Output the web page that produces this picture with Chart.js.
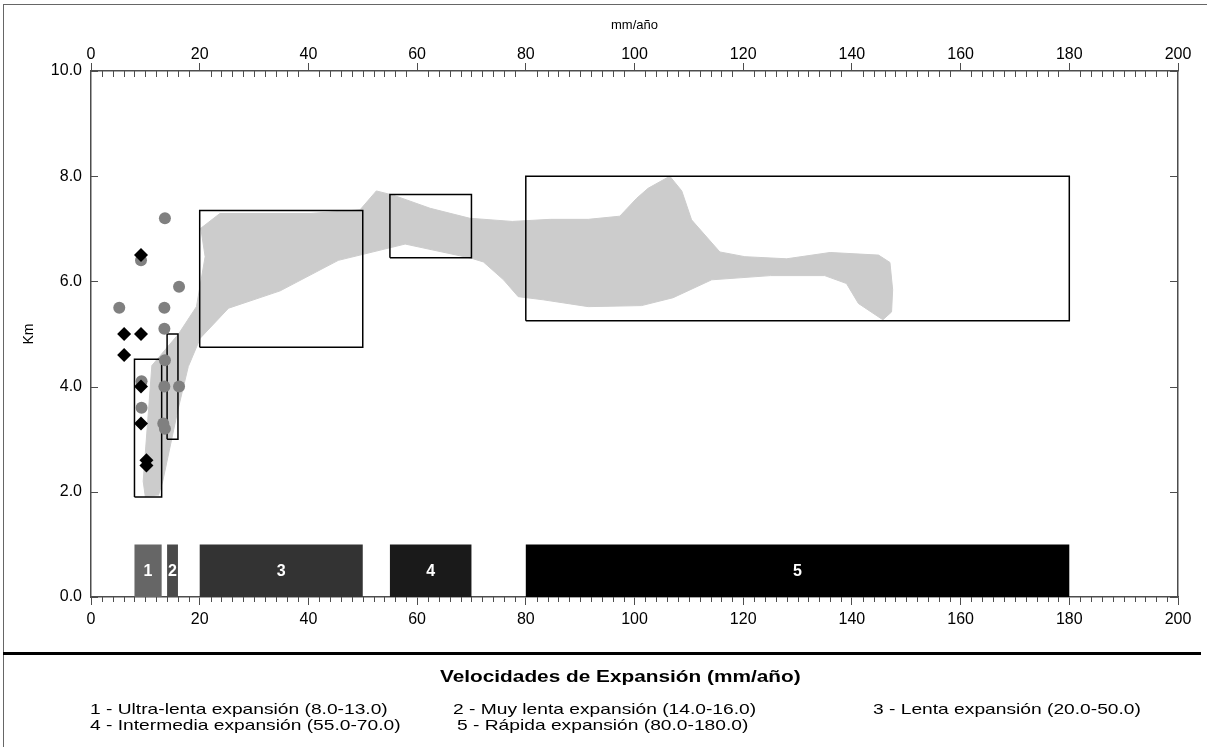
<!DOCTYPE html>
<html>
<head>
<meta charset="utf-8">
<script src="https://cdn.jsdelivr.net/npm/chart.js@4.4.0/dist/chart.umd.min.js"></script>
<style>
  body { margin: 0; background: #fff; font-family: 'Liberation Sans', Arial, sans-serif; }
  #wrap { position: relative; width: 1207px; height: 747px; overflow: hidden; }
  #chart { position: absolute; left: 0; top: 0; }
  #frameTop { position: absolute; left: 3px; top: 4px; width: 1204px; height: 1px; background: #666; }
  #frameLeft { position: absolute; left: 3px; top: 4px; width: 1px; height: 743px; background: #666; }
  #rule { position: absolute; left: 3px; top: 652px; width: 1198px; height: 3px; background: #000; }
  .txt { position: absolute; white-space: nowrap; transform-origin: 0 0; transform: scaleX(1.28); line-height: 1; color: #000; }
  .ttl { font-weight: bold; font-size: 16px; transform: scaleX(1.3); }
  .item { font-size: 15px; }
</style>
</head>
<body>
<div id="wrap">
  <canvas id="chart" width="1207" height="747"></canvas>
  <div id="frameTop"></div>
  <div id="frameLeft"></div>
  <div id="rule"></div>
  <div id="legend"></div>
</div>
<script>
// expansion rate classes (mm/año)
const rangeLabels = ['1', '2', '3', '4', '5'];
const rangeNames = ['Ultra-lenta expansión', 'Muy lenta expansión', 'Lenta expansión', 'Intermedia expansión', 'Rápida expansión'];
const rangeFrom = [8, 14, 20, 55, 80];
const rangeTo = [13, 16, 50, 70, 180];
const rangeBarTop = 1.0;

// depth window (Km) boxed for each class
const boxBottom = [1.9, 3.0, 4.75, 6.45, 5.25];
const boxTop = [4.52, 5.0, 7.35, 7.65, 8.0];

// shaded band, outline traced round (x mm/año, y Km)
const bandX = [10.0, 9.6, 11.2, 16.1, 19.4, 21.0, 20.2, 23.7, 40.3, 49.5, 52.5, 55.6, 62.4, 69.7, 77.5, 84.5,
  91.5, 97.3, 100.4, 102.5, 106.5, 108.7, 110.5, 115.7, 120.3, 128.0, 136.0, 144.9, 147.0, 147.5, 147.3, 145.7,
  141.2, 139.0, 135.0, 125.0, 114.2, 107.1, 101.3, 91.5, 83.2, 78.6, 75.9, 72.2, 70.0, 57.8, 45.5, 34.8,
  25.3, 20.1, 17.9, 16.0, 13.2, 12.4];
const bandY = [1.90, 2.20, 4.40, 5.00, 5.52, 6.47, 7.01, 7.29, 7.29, 7.36, 7.72, 7.64, 7.39, 7.20, 7.14, 7.18,
  7.18, 7.24, 7.58, 7.77, 8.00, 7.72, 7.17, 6.56, 6.47, 6.43, 6.55, 6.50, 6.36, 5.84, 5.42, 5.27,
  5.58, 5.96, 6.11, 6.11, 6.03, 5.69, 5.54, 5.52, 5.65, 5.71, 6.03, 6.37, 6.44, 6.71, 6.40, 5.82,
  5.49, 4.92, 4.38, 3.56, 2.20, 1.93];

// sample points
const circleX = [5.2, 9.2, 9.3, 9.3, 13.6, 13.5, 13.5, 13.6, 13.5, 13.3, 13.6, 16.2, 16.2];
const circleY = [5.5, 6.4, 4.1, 3.6, 7.2, 5.5, 5.1, 4.5, 4.0, 3.3, 3.2, 5.9, 4.0];
const diamondX = [6.1, 6.1, 9.2, 9.2, 9.2, 9.2, 10.2, 10.2];
const diamondY = [5.0, 4.6, 6.5, 5.0, 4.0, 3.3, 2.6, 2.5];

const barColors = ['#666666', '#4a4a4a', '#333333', '#1a1a1a', '#000000'];
const axisColor = '#4d4d4d';
const fontFamily = "'Liberation Sans', Arial, sans-serif";

function rectPoints(x0, x1, y0, y1) {
  return [{x: x0, y: y0}, {x: x1, y: y0}, {x: x1, y: y1}, {x: x0, y: y1}, {x: x0, y: y0}];
}

const datasets = [];

datasets.push({
  type: 'scatter',
  data: diamondX.map((x, i) => ({x: x, y: diamondY[i]})),
  pointStyle: 'rectRot',
  pointRadius: 7,
  backgroundColor: '#000',
  borderWidth: 0,
  order: 0
});

datasets.push({
  type: 'scatter',
  data: circleX.map((x, i) => ({x: x, y: circleY[i]})),
  pointStyle: 'circle',
  pointRadius: 6,
  backgroundColor: '#808080',
  borderWidth: 0,
  order: 1
});

rangeFrom.forEach((from, i) => {
  datasets.push({
    type: 'line',
    data: rectPoints(from, rangeTo[i], boxBottom[i], boxTop[i]),
    borderColor: '#000',
    borderWidth: 1.5,
    pointRadius: 0,
    fill: false,
    order: 2
  });
  datasets.push({
    type: 'line',
    data: rectPoints(from, rangeTo[i], 0, rangeBarTop),
    borderColor: 'rgba(0,0,0,0)',
    backgroundColor: barColors[i],
    pointRadius: 0,
    fill: 'shape',
    order: 3
  });
});

datasets.push({
  type: 'line',
  data: bandX.map((x, i) => ({x: x, y: bandY[i]})),
  borderColor: '#cccccc',
  borderWidth: 1,
  backgroundColor: '#cccccc',
  pointRadius: 0,
  fill: 'shape',
  order: 4
});

// minor ticks on the x axes, inward major ticks on both y axes, class numbers on the bars
const axisExtras = {
  id: 'axisExtras',
  afterDraw(chart) {
    const {ctx, chartArea: a, scales} = chart;
    const xs = scales.x, ys = scales.y;
    ctx.save();
    ctx.strokeStyle = axisColor;
    ctx.lineWidth = 1;
    ctx.beginPath();
    for (let v = 2; v < 200; v += 2) {
      if (v % 20 === 0) continue;
      const px = Math.round(xs.getPixelForValue(v)) + 0.5;
      ctx.moveTo(px, a.top); ctx.lineTo(px, a.top + 6);
      ctx.moveTo(px, a.bottom); ctx.lineTo(px, a.bottom + 5);
    }
    for (let v = 0; v <= 10; v += 2) {
      const py = Math.round(ys.getPixelForValue(v)) + 0.5;
      ctx.moveTo(a.left, py); ctx.lineTo(a.left + 7, py);
      ctx.moveTo(a.right, py); ctx.lineTo(a.right - 8, py);
    }
    ctx.stroke();

    ctx.fillStyle = '#fff';
    ctx.font = 'bold 16px ' + fontFamily;
    ctx.textAlign = 'center';
    ctx.textBaseline = 'middle';
    rangeLabels.forEach((lab, i) => {
      const cx = xs.getPixelForValue((rangeFrom[i] + rangeTo[i]) / 2);
      const cy = ys.getPixelForValue(rangeBarTop / 2);
      ctx.fillText(lab, cx, cy + 1);
    });
    ctx.restore();
  }
};

const tickFont = {family: fontFamily, size: 16};

new Chart(document.getElementById('chart'), {
  type: 'scatter',
  data: {datasets: datasets},
  options: {
    responsive: false,
    animation: false,
    events: [],
    layout: {padding: {left: 16, right: 9, top: 14, bottom: 120}},
    plugins: {legend: {display: false}, tooltip: {enabled: false}},
    scales: {
      x: {
        type: 'linear', position: 'bottom', min: 0, max: 200,
        ticks: {stepSize: 20, color: '#000', font: tickFont, padding: 5},
        grid: {drawOnChartArea: false, tickLength: 8, color: axisColor, lineWidth: 1},
        border: {color: axisColor, width: 1.5},
        afterFit: s => { s.height = 30; }
      },
      xTop: {
        type: 'linear', position: 'top', min: 0, max: 200,
        ticks: {stepSize: 20, color: '#000', font: tickFont, padding: -1},
        grid: {drawOnChartArea: false, tickLength: 8, color: axisColor, lineWidth: 1},
        border: {color: axisColor, width: 1.5},
        title: {display: true, text: 'mm/año', color: '#000', font: {family: fontFamily, size: 13}, padding: {top: 4, bottom: 0}},
        afterFit: s => { s.height = 57; }
      },
      y: {
        type: 'linear', position: 'left', min: 0, max: 10,
        ticks: {stepSize: 2, color: '#000', font: tickFont, padding: 9, callback: v => v.toFixed(1)},
        grid: {drawOnChartArea: false, drawTicks: false},
        border: {color: axisColor, width: 1.5},
        title: {display: true, text: 'Km', color: '#000', font: {family: fontFamily, size: 14}, padding: {top: 5, bottom: 0}},
        afterFit: s => { s.width = 75; }
      },
      y2: {
        type: 'linear', position: 'right', min: 0, max: 10,
        ticks: {display: false},
        grid: {drawOnChartArea: false, drawTicks: false},
        border: {color: axisColor, width: 1.5},
        afterFit: s => { s.width = 20; }
      }
    }
  },
  plugins: [axisExtras]
});

// legend block under the chart
const legendTitle = 'Velocidades de Expansión (mm/año)';
const legendSpots = [[90, 701], [453, 701], [873, 701], [90, 717], [457, 717]];
const legend = document.getElementById('legend');

function addText(cls, text, left, top) {
  const d = document.createElement('div');
  d.className = 'txt ' + cls;
  d.textContent = text;
  d.style.left = left + 'px';
  d.style.top = top + 'px';
  legend.appendChild(d);
  return d;
}

addText('ttl', legendTitle, 440, 669);
rangeLabels.forEach((lab, i) => {
  const txt = lab + ' - ' + rangeNames[i] + ' (' + rangeFrom[i].toFixed(1) + '-' + rangeTo[i].toFixed(1) + ')';
  addText('item', txt, legendSpots[i][0], legendSpots[i][1]);
});
</script>
</body>
</html>
